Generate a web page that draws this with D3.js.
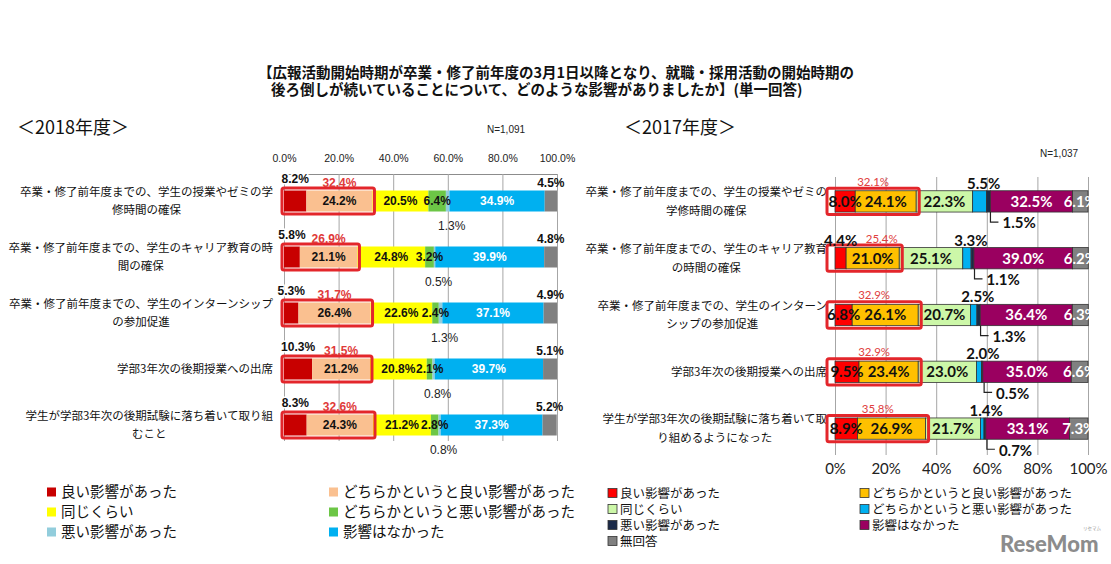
<!DOCTYPE html>
<html><head><meta charset="utf-8">
<script src="https://cdn.jsdelivr.net/npm/d3@7"></script>
<style>
body{margin:0;background:#fff;}
svg{display:block;}
</style></head><body>
<svg id="c" width="1111" height="564"></svg>
<script>
// ---------------- DATA ----------------
const titleLines = [
  "【広報活動開始時期が卒業・修了前年度の3月1日以降となり、就職・採用活動の開始時期の",
  "後ろ倒しが続いていることについて、どのような影響がありましたか】(単一回答)"
];
const seriesKeys = ["good","ratherGood","same","ratherBad","bad","none","noAnswer"];
const seriesNames = ["良い影響があった","どちらかというと良い影響があった","同じくらい",
  "どちらかというと悪い影響があった","悪い影響があった","影響はなかった","無回答"];

// 2018年度
const categories2018 = [
  "卒業・修了前年度までの、学生の授業やゼミの学\n修時間の確保",
  "卒業・修了前年度までの、学生のキャリア教育の時\n間の確保",
  "卒業・修了前年度までの、学生のインターンシップ\nの参加促進",
  "学部3年次の後期授業への出席",
  "学生が学部3年次の後期試験に落ち着いて取り組\nむこと"
];
const good2018       = [8.2, 5.8, 5.3, 10.3, 8.3];
const ratherGood2018 = [24.2, 21.1, 26.4, 21.2, 24.3];
const same2018       = [20.5, 24.8, 22.6, 20.8, 21.2];
const ratherBad2018  = [6.4, 3.2, 2.4, 2.1, 2.8];
const bad2018        = [1.3, 0.5, 1.3, 0.8, 0.8];
const none2018       = [34.9, 39.9, 37.1, 39.7, 37.3];
const noAnswer2018   = [4.5, 4.8, 4.9, 5.1, 5.2];
const goodTotal2018  = [32.4, 26.9, 31.7, 31.5, 32.6];
const ticks2018 = ["0.0%","20.0%","40.0%","60.0%","80.0%","100.0%"];

// 2017年度
const categories2017 = [
  "卒業・修了前年度までの、学生の授業やゼミの\n学修時間の確保",
  "卒業・修了前年度までの、学生のキャリア教育\nの時間の確保",
  "卒業・修了前年度までの、学生のインターン\nシップの参加促進",
  "学部3年次の後期授業への出席",
  "学生が学部3年次の後期試験に落ち着いて取\nり組めるようになった"
];
const good2017       = [8.0, 4.4, 6.8, 9.5, 8.9];
const ratherGood2017 = [24.1, 21.0, 26.1, 23.4, 26.9];
const same2017       = [22.3, 25.1, 20.7, 23.0, 21.7];
const ratherBad2017  = [5.5, 3.3, 2.5, 2.0, 1.4];
const bad2017        = [1.5, 1.1, 1.3, 0.5, 0.7];
const none2017       = [32.5, 39.0, 36.4, 35.0, 33.1];
const noAnswer2017   = [6.1, 6.2, 6.3, 6.6, 7.3];
const goodTotal2017  = [32.1, 25.4, 32.9, 32.9, 35.8];
const ticks2017 = ["0%","20%","40%","60%","80%","100%"];
const tickValues = [0,20,40,60,80,100];

// ---------------- STYLE ----------------
const colors2018 = {good:"#c80000", ratherGood:"#fac090", same:"#ffff00", ratherBad:"#6cc646",
  bad:"#92cddc", none:"#00b0f0", noAnswer:"#808080"};
const colors2017 = {good:"#ff0000", ratherGood:"#ffc000", same:"#ccf7a8", ratherBad:"#00b0f0",
  bad:"#1b2a48", none:"#9a0060", noAnswer:"#808080"};
const JP = '"Noto Sans CJK JP","Noto Sans",sans-serif';
const NARROW = '"Liberation Sans Narrow","Liberation Sans",Arial,sans-serif';
const LATO = 'Lato,"Open Sans",sans-serif';
const BOXRED = "#e3262b";
const fmt = v => v.toFixed(1) + "%";

const svg = d3.select("#c");

// title
titleLines.forEach((t,i)=>{
  svg.append("text").attr("x", i===0?258:271).attr("y", 78 + i*17)
    .attr("font-family", JP).attr("font-size", 14.5).attr("font-weight", "bold")
    .attr("fill","#111").text(t);
});
svg.append("text").attr("x",17).attr("y",134).attr("font-family",JP).attr("font-size",18)
  .attr("fill","#111").text("＜2018年度＞");
svg.append("text").attr("x",624).attr("y",134).attr("font-family",JP).attr("font-size",18)
  .attr("fill","#111").text("＜2017年度＞");
svg.append("text").attr("x",487).attr("y",133).attr("font-family",'"Liberation Sans",Arial')
  .attr("font-size",10).attr("fill","#222").text("N=1,091");
svg.append("text").attr("x",1040).attr("y",157).attr("font-family",'"Liberation Sans",Arial')
  .attr("font-size",10).attr("fill","#222").text("N=1,037");

function buildRows(arrs){
  return arrs[0].map((_,i)=>{
    const r = {};
    seriesKeys.forEach((k,j)=> r[k] = arrs[j][i]);
    return r;
  });
}

function categoryLabels(cats, y, rightX, lineGap, fontSize){
  cats.forEach((c,i)=>{
    const lines = c.split("\n");
    const cy = y(i) + y.bandwidth()/2;
    const g = svg.append("g");
    const ts = lines.map((l,j)=> g.append("text")
      .attr("x",0)
      .attr("y", cy + (j - (lines.length-1)/2)*lineGap)
      .attr("dy","0.36em")
      .attr("text-anchor","middle").attr("font-family",JP).attr("font-size",fontSize)
      .attr("fill","#111").text(l));
    const w = d3.max(ts, t=>t.node().getComputedTextLength());
    g.attr("transform", `translate(${rightX - w/2},0)`);
  });
}

// ================= 2018 (left) =================
(function(){
  const x = d3.scaleLinear().domain([0,100]).range([284,557]);
  const y = d3.scaleBand().domain(d3.range(categories2018.length)).range([173,453])
    .paddingInner(0.625).paddingOuter(0.3125);
  const rows = buildRows([good2018,ratherGood2018,same2018,ratherBad2018,bad2018,none2018,noAnswer2018]);
  const stack = d3.stack().keys(seriesKeys)(rows);

  const ax = svg.append("g").attr("transform","translate(0,174)")
    .call(d3.axisTop(x).tickValues(tickValues).tickFormat((d,i)=>ticks2018[i])
      .tickSize(-(441-174)).tickSizeOuter(0).tickPadding(12));
  ax.select(".domain").attr("stroke","#8c8c8c");
  ax.selectAll(".tick line").attr("stroke","#a6a6a6");
  ax.selectAll(".tick text").attr("font-family",'"Liberation Sans",Arial').attr("font-size",10.5).attr("fill","#222");

  categoryLabels(categories2018, y, 273, 18.5, 11.5);

  svg.append("g").selectAll("g").data(stack).join("g").attr("fill", d=>colors2018[d.key])
    .selectAll("rect").data(d=>d).join("rect")
    .attr("x", d=>x(d[0])).attr("width", d=>x(d[1])-x(d[0]))
    .attr("y", (d,i)=>y(i)).attr("height", y.bandwidth());

  // red boxes
  svg.append("g").selectAll("rect").data(goodTotal2018).join("rect")
    .attr("x", x(0)-2).attr("width", d=>x(d)-x(0)+4)
    .attr("y",(d,i)=>y(i)-2.5).attr("height", y.bandwidth()+5)
    .attr("rx",2).attr("fill","none").attr("stroke",BOXRED).attr("stroke-width",3);

  const lab = svg.append("g").attr("font-family",NARROW);
  const S = k => stack.find(s=>s.key===k);
  const mid = d => (x(d[0])+x(d[1]))/2;
  // inside labels
  [["ratherGood","#111"],["same","#111"],["ratherBad","#111"],["none","#fff"]].forEach(([k,col])=>{
    lab.selectAll(null).data(S(k)).join("text")
      .attr("x", mid).attr("y",(d,i)=>y(i)+y.bandwidth()/2).attr("dy","0.36em")
      .attr("text-anchor","middle").attr("font-size",12).attr("font-weight","bold").attr("fill",col)
      .text(d=>fmt(d.data[k]));
  });
  // above labels
  lab.selectAll(null).data(S("good")).join("text")
    .attr("x", mid).attr("y",(d,i)=>y(i)-7.5)
    .attr("text-anchor","middle").attr("font-size",12).attr("font-weight","bold").attr("fill","#111")
    .attr("stroke","#fff").attr("stroke-width",3).attr("paint-order","stroke")
    .text(d=>fmt(d.data.good));
  lab.selectAll(null).data(S("noAnswer")).join("text")
    .attr("x", mid).attr("y",(d,i)=>y(i)-4)
    .attr("text-anchor","middle").attr("font-size",12).attr("font-weight","bold").attr("fill","#111")
    .text(d=>fmt(d.data.noAnswer));
  lab.selectAll(null).data(S("ratherGood")).join("text")
    .attr("x", mid).attr("y",(d,i)=>y(i)-4)
    .attr("text-anchor","middle").attr("font-size",12).attr("font-weight","bold").attr("fill","#e03a3a")
    .text((d,i)=>fmt(goodTotal2018[i]));
  // below labels
  lab.selectAll(null).data(S("bad")).join("text")
    .attr("x", d=>mid(d)+4).attr("y",(d,i)=>y(i)+y.bandwidth()+18.5)
    .attr("text-anchor","middle").attr("font-size",12).attr("fill","#222")
    .text(d=>fmt(d.data.bad));

  // legend (6 items, no 無回答)
  const lg = svg.append("g");
  seriesKeys.slice(0,6).forEach((k,i)=>{
    const cx = i%2===0 ? 47 : 329, cy = 492 + Math.floor(i/2)*20;
    lg.append("rect").attr("x",cx).attr("y",cy-4.5).attr("width",9).attr("height",9).attr("fill",colors2018[k]);
    lg.append("text").attr("x",cx+14).attr("y",cy).attr("dy","0.36em").attr("font-family",JP)
      .attr("font-size",14.5).attr("fill","#111").text(seriesNames[i]);
  });
})();

// ================= 2017 (right) =================
(function(){
  const x = d3.scaleLinear().domain([0,100]).range([835,1088]);
  const y = d3.scaleBand().domain(d3.range(categories2017.length)).range([173,457])
    .paddingInner(0.625).paddingOuter(0.3125);
  const rows = buildRows([good2017,ratherGood2017,same2017,ratherBad2017,bad2017,none2017,noAnswer2017]);
  const stack = d3.stack().keys(seriesKeys)(rows);

  const ax = svg.append("g").attr("transform","translate(0,455)")
    .call(d3.axisBottom(x).tickValues(tickValues).tickFormat((d,i)=>ticks2017[i])
      .tickSize(-(455-177)).tickSizeOuter(0).tickPadding(8));
  ax.select(".domain").remove();
  ax.selectAll(".tick line").attr("stroke","#a6a6a6");
  ax.selectAll(".tick text").attr("font-family",LATO).attr("font-size",15).attr("fill","#222");

  categoryLabels(categories2017, y, 827, 18.5, 11.5);

  svg.append("g").selectAll("g").data(stack).join("g").attr("fill", d=>colors2017[d.key])
    .selectAll("rect").data(d=>d).join("rect")
    .attr("x", d=>x(d[0])).attr("width", d=>x(d[1])-x(d[0]))
    .attr("y", (d,i)=>y(i)).attr("height", y.bandwidth())
    .attr("stroke","#333").attr("stroke-width",0.8);

  svg.append("g").selectAll("rect").data(goodTotal2017).join("rect")
    .attr("x", x(0)-8).attr("width", d=>x(d)-x(0)+11)
    .attr("y",(d,i)=>y(i)-2.5).attr("height", y.bandwidth()+5)
    .attr("rx",2).attr("fill","none").attr("stroke",BOXRED).attr("stroke-width",3);

  const lab = svg.append("g").attr("font-family",LATO).attr("font-weight","bold");
  const S = k => stack.find(s=>s.key===k);
  const mid = d => (x(d[0])+x(d[1]))/2;
  const cyOf = i => y(i)+y.bandwidth()/2;

  // good: inside if wide enough, else above
  lab.selectAll(null).data(S("good")).join("text")
    .attr("x", mid).attr("y",(d,i)=> d.data.good>=5 ? cyOf(i) : y(i)-2)
    .attr("dy", d=> d.data.good>=5 ? "0.36em" : "0")
    .attr("text-anchor","middle").attr("font-size",15).attr("fill","#111")
    .text(d=>fmt(d.data.good));
  [["ratherGood","#111"],["same","#111"],["none","#fff"],["noAnswer","#fff"]].forEach(([k,col])=>{
    lab.selectAll(null).data(S(k)).join("text")
      .attr("x", mid).attr("y",(d,i)=>cyOf(i)).attr("dy","0.36em")
      .attr("text-anchor","middle").attr("font-size",15).attr("fill",col)
      .text(d=>fmt(d.data[k]));
  });
  // ratherBad above
  lab.selectAll(null).data(S("ratherBad")).join("text")
    .attr("x", d=>mid(d)+4).attr("y",(d,i)=>y(i)-2)
    .attr("text-anchor","middle").attr("font-size",15).attr("fill","#111")
    .text(d=>fmt(d.data.ratherBad));
  // bad below with leader line
  const badS = S("bad");
  svg.append("g").selectAll("path").data(badS).join("path")
    .attr("d",(d,i)=>{ const lx = mid(d)+2, b = y(i)+y.bandwidth();
      return `M${lx},${b}V${b+10}H${lx+8}`; })
    .attr("fill","none").attr("stroke","#222").attr("stroke-width",1.2);
  lab.selectAll(null).data(badS).join("text")
    .attr("x", d=>mid(d)+14).attr("y",(d,i)=>y(i)+y.bandwidth()+11).attr("dy","0.36em")
    .attr("text-anchor","start").attr("font-size",15).attr("fill","#111")
    .text(d=>fmt(d.data.bad));
  // red totals
  const rg = S("ratherGood");
  svg.append("g").selectAll("text").data(goodTotal2017).join("text")
    .attr("x",(d,i)=> good2017[i] >= 5 ? (x(0)-8 + x(d)+3)/2 : mid(rg[i])+9)
    .attr("y",(d,i)=>y(i)-5)
    .attr("text-anchor","middle").attr("font-family",LATO).attr("font-size",11.5)
    .attr("fill","#e04040").text(d=>fmt(d));

  // legend
  const lg = svg.append("g");
  seriesKeys.forEach((k,i)=>{
    const cx = i%2===0 ? 608 : 860, cy = 493 + Math.floor(i/2)*16;
    lg.append("rect").attr("x",cx).attr("y",cy-4.5).attr("width",9).attr("height",9)
      .attr("fill",colors2017[k]).attr("stroke","#333").attr("stroke-width",0.8);
    lg.append("text").attr("x",cx+12).attr("y",cy).attr("dy","0.36em").attr("font-family",JP)
      .attr("font-size",12.5).attr("fill","#111").text(seriesNames[i]);
  });
})();

// logo
svg.append("text").attr("x",1000).attr("y",552).attr("font-family",LATO).attr("font-weight","900")
  .attr("font-size",22).attr("fill","#8c8c8c").text("ReseMom");
svg.append("text").attr("x",1083).attr("y",530).attr("font-family",JP)
  .attr("font-size",4.5).attr("fill","#999").text("リセマム");
</script>
</body></html>
